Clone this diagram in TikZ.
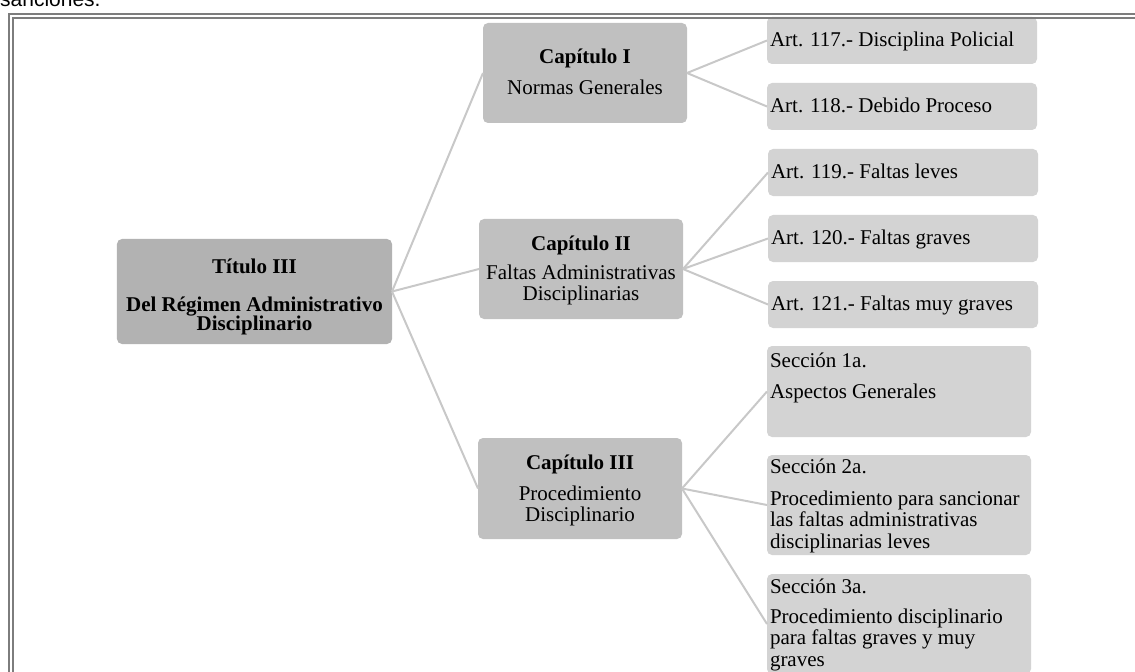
\documentclass[tikz,border=0pt]{standalone}
\usepackage{fontspec}
\setmainfont{Liberation Serif}
\newfontfamily\sansf{Liberation Sans}
\definecolor{titlefill}{RGB}{178,178,178}
\definecolor{chapfill}{RGB}{192,192,192}
\definecolor{leaffill}{RGB}{211,211,211}
\definecolor{linkgray}{RGB}{200,200,200}
\definecolor{framegray}{RGB}{125,125,125}
\newcommand{\cbox}[4]{\parbox[c][#2][t]{#1}{\centering\rule{0pt}{#3}#4\par}}
\newcommand{\lbox}[4]{\parbox[c][#2][t]{#1}{\raggedright\rule{0pt}{#3}#4\par}}
\begin{document}
\begin{tikzpicture}[x=1bp,y=-1bp,
  basebox/.style={rounded corners=5bp, inner xsep=3bp, inner ysep=0pt, outer sep=0pt,
    font=\fontsize{21bp}{21.5bp}\selectfont},
  titlebox/.style={basebox, fill=titlefill},
  chapbox/.style={basebox, fill=chapfill},
  leafbox/.style={basebox, fill=leaffill},
  link/.style={draw=linkgray, line width=2bp},
  frameline/.style={draw=framegray, line width=2bp}]
\useasboundingbox (0,0) rectangle (1135,672);

% cut-off text above the frame
\node[anchor=base west, inner sep=0pt, font=\sansf\fontsize{21bp}{24bp}\selectfont] (top) at (0,7) {sanciones.};

% root
\node[titlebox] (t) at (254.5,291.5)
  {\cbox{269bp}{105bp}{34bp}{\textbf{Título III}\\[16.5bp]\textbf{Del Régimen Administrativo}\\[-2.5bp]\textbf{Disciplinario}}};

% chapters
\node[chapbox] (c1) at (585,73)
  {\cbox{198bp}{100bp}{41bp}{\textbf{Capítulo I}\\[9.5bp]Normas Generales}};
\node[chapbox] (c2) at (581,269)
  {\cbox{198bp}{100bp}{31bp}{\textbf{Capítulo II}\\[7.5bp]Faltas Administrativas\\Disciplinarias}};
\node[chapbox] (c3) at (580,488.5)
  {\cbox{198bp}{101bp}{31bp}{\textbf{Capítulo III}\\[9.5bp]Procedimiento\\Disciplinario}};

% articles
\node[leafbox] (a117) at (902,40.5)  {\lbox{264bp}{47bp}{29.5bp}{Art. 117.- Disciplina Policial}};
\node[leafbox] (a118) at (902,106.5) {\lbox{264bp}{47bp}{29.5bp}{Art. 118.- Debido Proceso}};
\node[leafbox] (a119) at (903,172.5) {\lbox{264bp}{47bp}{29.5bp}{Art. 119.- Faltas leves}};
\node[leafbox] (a120) at (903,238.5) {\lbox{264bp}{47bp}{29.5bp}{Art. 120.- Faltas graves}};
\node[leafbox] (a121) at (903,304.5) {\lbox{264bp}{47bp}{29.5bp}{Art. 121.- Faltas muy graves}};

% sections
\node[leafbox] (s1) at (899,391.5)
  {\lbox{258bp}{91bp}{21bp}{Sección 1a.\\[9.5bp]Aspectos Generales}};
\node[leafbox] (s2) at (899,505)
  {\lbox{258bp}{100bp}{18bp}{Sección 2a.\\[10.5bp]Procedimiento para sancionar\\las faltas administrativas\\disciplinarias leves}};
\node[leafbox] (s3) at (899,624)
  {\lbox{258bp}{100bp}{19bp}{Sección 3a.\\[8.5bp]Procedimiento disciplinario\\para faltas graves y muy\\graves}};

% connectors
\draw[link] (t.east) -- (c1.west);
\draw[link] (t.east) -- (c2.west);
\draw[link] (t.east) -- (c3.west);
\draw[link] (c1.east) -- (a117.west);
\draw[link] (c1.east) -- (a118.west);
\draw[link] (c2.east) -- (a119.west);
\draw[link] (c2.east) -- (a120.west);
\draw[link] (c2.east) -- (a121.west);
\draw[link] (c3.east) -- (s1.west);
\draw[link] (c3.east) -- (s2.west);
\draw[link] (c3.east) -- (s3.west);

% double frame (continues past the right and bottom edges)
\draw[frameline] (8.5,14.5) rectangle (1150,690);
\draw[frameline] (13,18.5) rectangle (1145,685);
\end{tikzpicture}
\end{document}
